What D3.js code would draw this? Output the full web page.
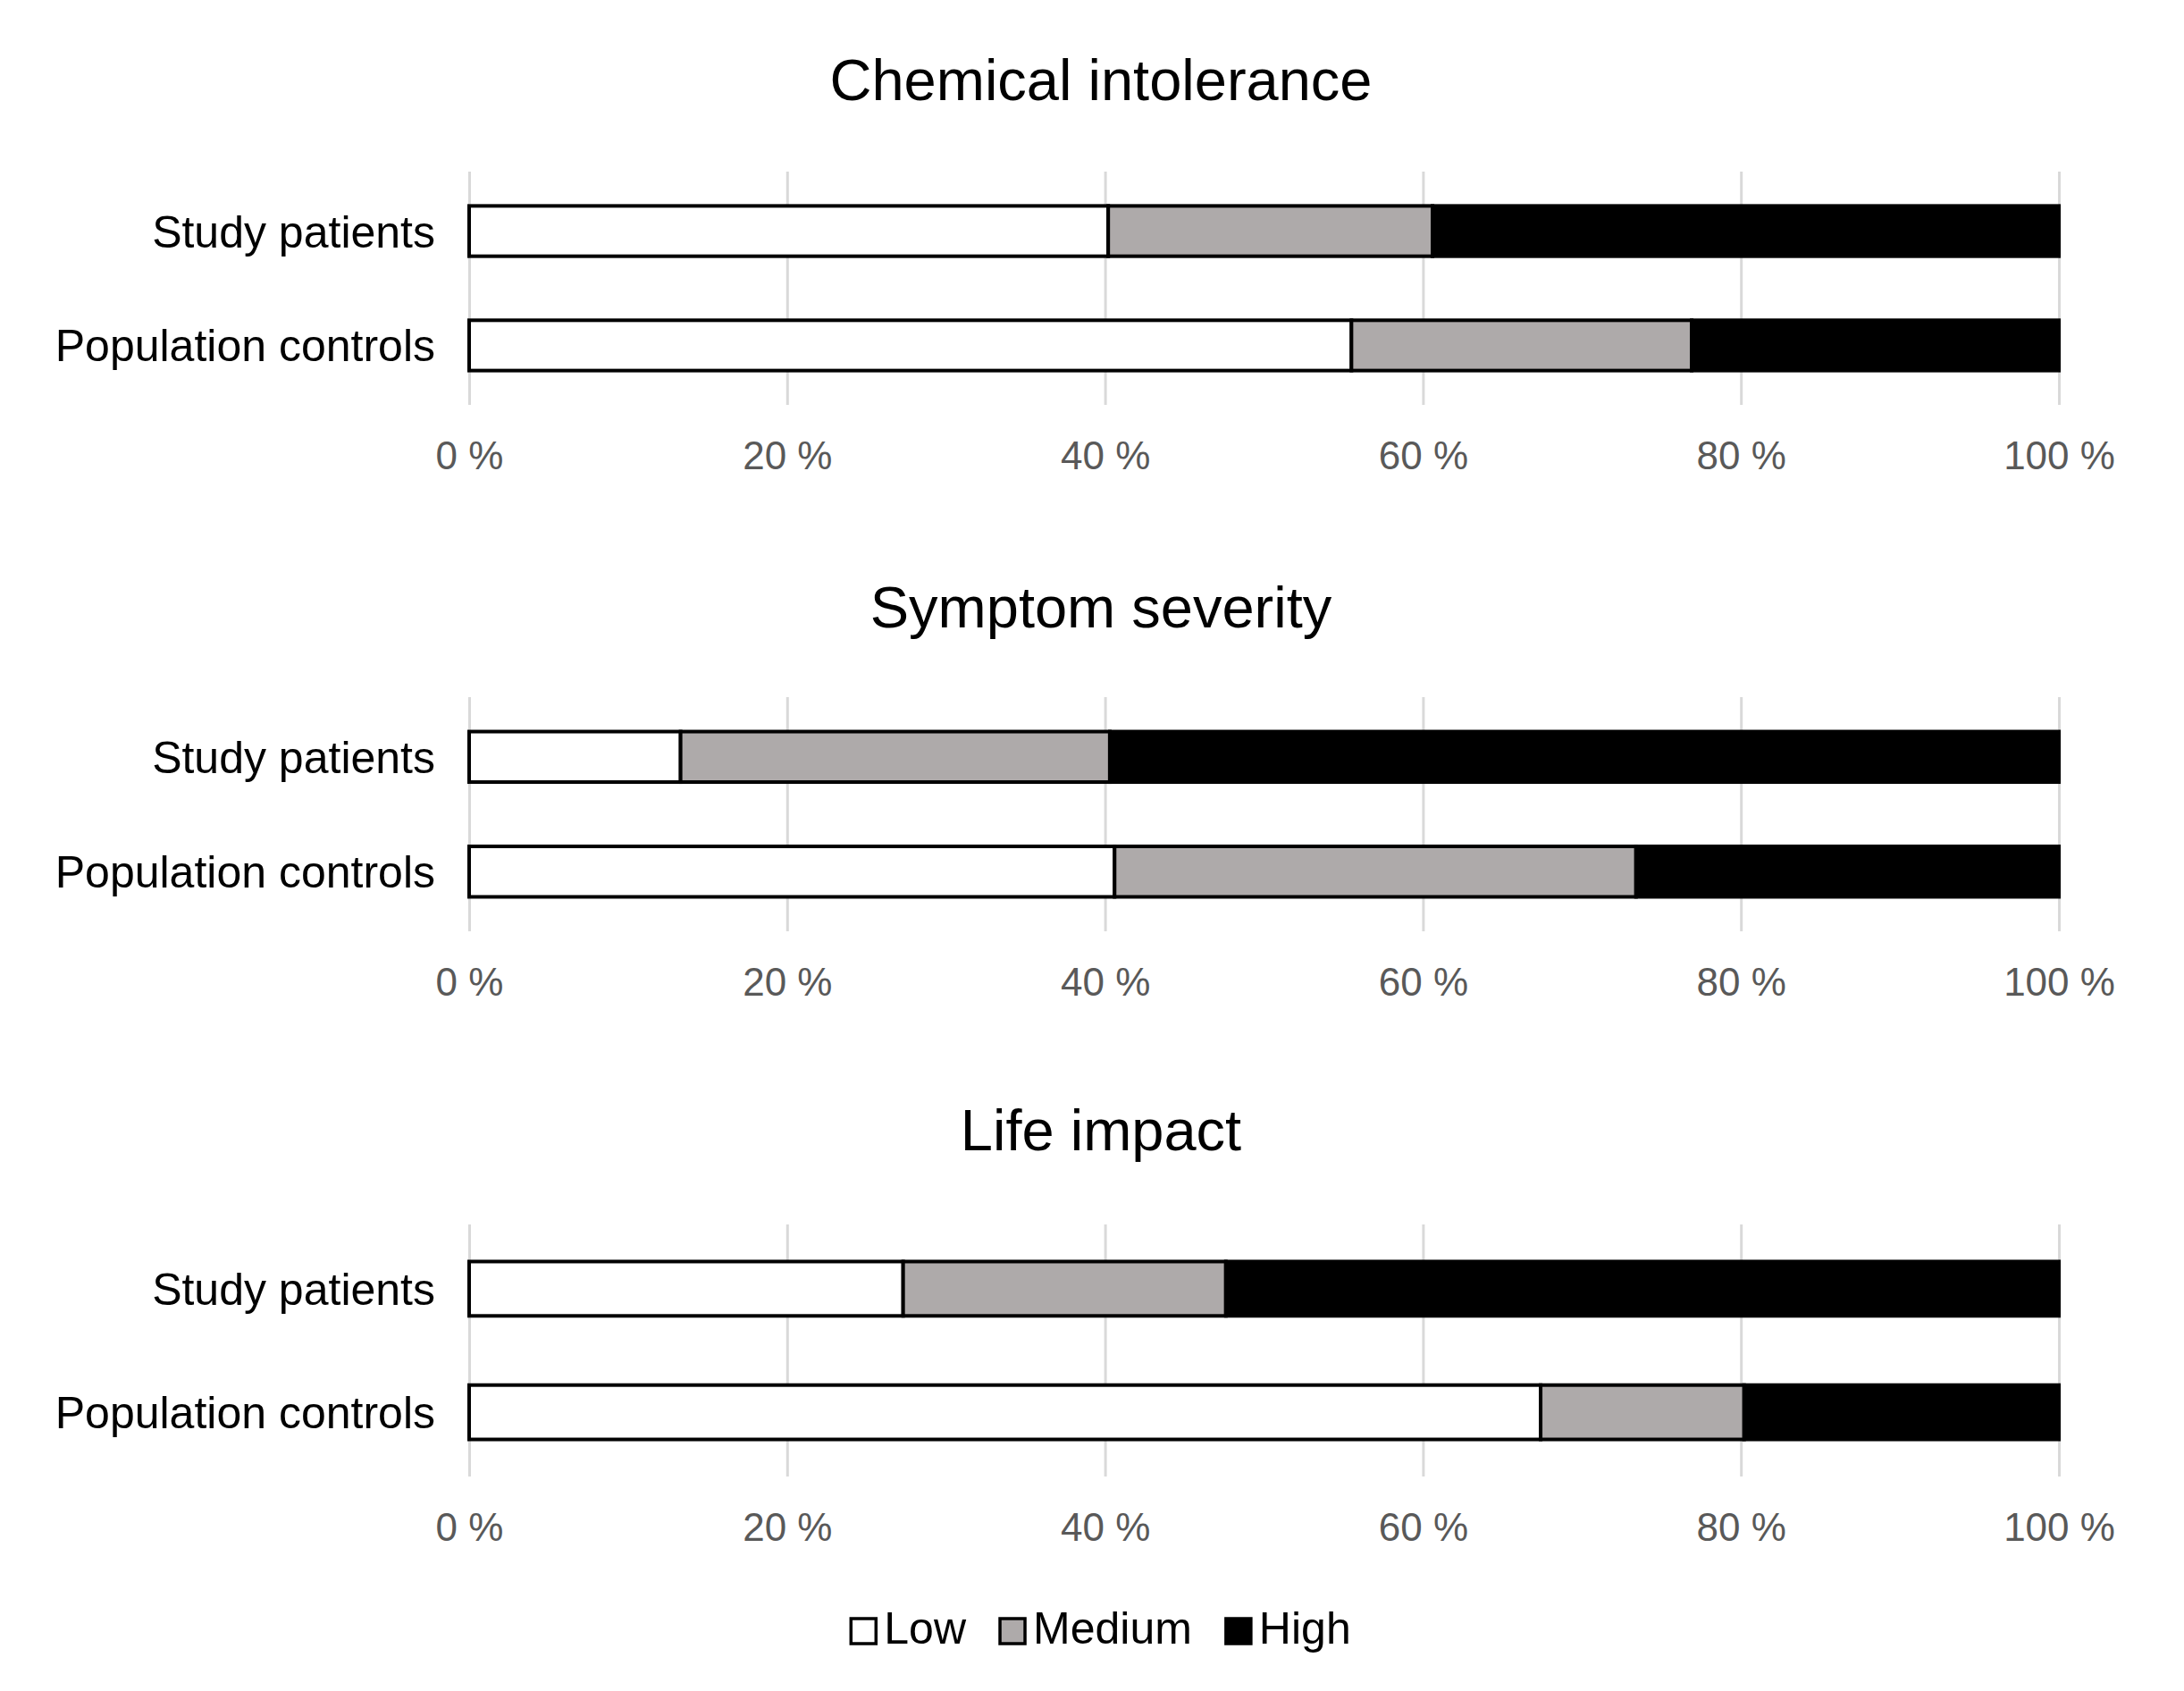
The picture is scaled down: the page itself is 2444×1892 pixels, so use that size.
<!DOCTYPE html>
<html>
<head>
<meta charset="utf-8">
<script src="https://cdn.jsdelivr.net/npm/d3@7"></script>
<style>
  html, body { margin: 0; padding: 0; background: #fff; }
  svg { display: block; }
  text { font-family: "Liberation Sans", Arial, sans-serif; }
</style>
</head>
<body>
<svg id="chart" width="2444" height="1892"></svg>
<script>
// ---- data ----
const panelTitles = ["Chemical intolerance", "Symptom severity", "Life impact"];
const categories = ["Study patients", "Population controls"];
const levels = ["Low", "Medium", "High"];
// values per panel: [Study patients, Population controls]
const lowValues    = [[40.2, 55.5], [13.3, 40.6], [27.3, 67.4]];
const mediumValues = [[20.4, 21.4], [27.0, 32.8], [20.3, 12.8]];
const highValues   = [[39.4, 23.1], [59.7, 26.6], [52.4, 19.8]];
const tickValues = [0, 20, 40, 60, 80, 100];

// ---- layout ----
const W = 2444, H = 1892;
const plotLeft = 525, plotRight = 2304;
const gridTops = [192, 780, 1370];
const gridBottoms = [453, 1042, 1652];
const titleBaselines = [112, 702, 1287];
const centerX = 1232;
const colors = { Low: "#FFFFFF", Medium: "#AEAAAA", High: "#000000" };

const svg = d3.select("#chart");
const x = d3.scaleLinear().domain([0, 100]).range([plotLeft, plotRight]);
const color = d3.scaleOrdinal().domain(levels).range(levels.map(l => colors[l]));

panelTitles.forEach((title, pi) => {
  const g = svg.append("g");
  const top = gridTops[pi], bottom = gridBottoms[pi];

  const y = d3.scaleBand().domain(categories).range([top, bottom])
    .paddingInner(0.56).paddingOuter(0.3);

  // title
  g.append("text")
    .attr("x", centerX).attr("y", titleBaselines[pi])
    .attr("text-anchor", "middle")
    .attr("font-size", 65)
    .attr("fill", "#000")
    .text(title);

  // axis with gridlines
  const axis = d3.axisBottom(x)
    .tickValues(tickValues)
    .tickFormat(d => d + " %")
    .tickSize(-(bottom - top))
    .tickPadding(41);
  const ax = g.append("g").attr("transform", `translate(0,${bottom})`).call(axis);
  ax.select(".domain").remove();
  ax.selectAll(".tick line").attr("stroke", "#D9D9D9").attr("stroke-width", 3);
  ax.selectAll(".tick text")
    .attr("font-size", 44)
    .attr("fill", "#595959")
    .style("font-family", "\"Liberation Sans\", Arial, sans-serif");

  // data rows
  const rows = categories.map((c, ci) => ({
    category: c,
    Low: lowValues[pi][ci],
    Medium: mediumValues[pi][ci],
    High: highValues[pi][ci]
  }));
  const stacked = d3.stack().keys(levels)(rows);

  g.append("g").selectAll("g")
    .data(stacked)
    .join("g")
    .attr("fill", d => color(d.key))
    .selectAll("rect")
    .data(d => d)
    .join("rect")
    .attr("x", d => x(d[0]))
    .attr("width", d => x(d[1]) - x(d[0]))
    .attr("y", d => y(d.data.category))
    .attr("height", y.bandwidth())
    .attr("stroke", "#000")
    .attr("stroke-width", 4);

  // category labels
  g.append("g").selectAll("text")
    .data(categories)
    .join("text")
    .attr("x", 487)
    .attr("y", d => y(d) + y.bandwidth() / 2)
    .attr("dy", "0.36em")
    .attr("text-anchor", "end")
    .attr("font-size", 50)
    .attr("fill", "#000")
    .text(d => d);
});

// ---- legend ----
const legend = svg.append("g");
const sq = 28, gapText = 9, gapItem = 38, legendBaseline = 1839;
let cx = 0;
levels.forEach(l => {
  const ig = legend.append("g");
  ig.append("rect")
    .attr("x", 0).attr("y", legendBaseline - sq)
    .attr("width", sq).attr("height", sq)
    .attr("fill", color(l)).attr("stroke", "#000").attr("stroke-width", 3.5);
  const t = ig.append("text")
    .attr("x", sq + gapText).attr("y", legendBaseline)
    .attr("font-size", 50).attr("fill", "#000")
    .text(l);
  const w = sq + gapText + t.node().getComputedTextLength();
  ig.attr("transform", `translate(${cx},0)`);
  cx += w + gapItem;
});
const totalW = cx - gapItem;
legend.attr("transform", `translate(${centerX - totalW / 2},0)`);
</script>
</body>
</html>
